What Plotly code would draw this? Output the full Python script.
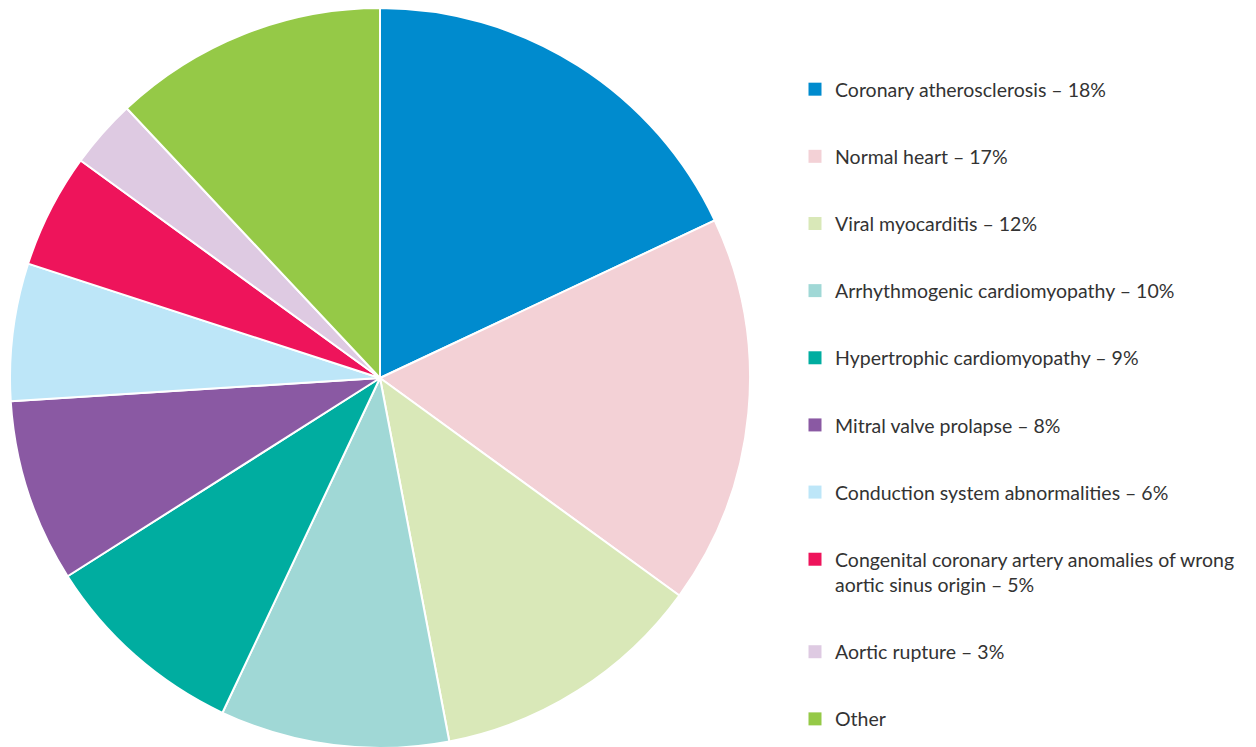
import plotly.graph_objects as go

labels = ["Coronary atherosclerosis", "Normal heart", "Viral myocarditis",
          "Arrhythmogenic cardiomyopathy", "Hypertrophic cardiomyopathy",
          "Mitral valve prolapse", "Conduction system abnormalities",
          "Congenital coronary artery anomalies of wrong aortic sinus origin",
          "Aortic rupture", "Other"]
values = [18, 17, 12, 10, 9, 8, 6, 5, 3, 12]
legend_text = ["Coronary atherosclerosis – 18%", "Normal heart – 17%",
               "Viral myocarditis – 12%", "Arrhythmogenic cardiomyopathy – 10%",
               "Hypertrophic cardiomyopathy – 9%", "Mitral valve prolapse – 8%",
               "Conduction system abnormalities – 6%",
               "Congenital coronary artery anomalies of wrong<br>aortic sinus origin – 5%",
               "Aortic rupture – 3%", "Other"]
colors = ["#008BCE", "#F3D1D6", "#D9E8B8", "#A0D8D6", "#00ADA0",
          "#8A59A3", "#BDE6F8", "#EE145B", "#DECAE2", "#95C947"]

W, H = 1256, 747
PH = 740  # plot-area height
fig = go.Figure()
fig.add_trace(go.Pie(
    labels=labels, values=values, sort=False, direction="clockwise", rotation=0,
    marker=dict(colors=colors, line=dict(color="white", width=2)),
    textinfo="none", hoverinfo="label+percent", showlegend=False,
    domain=dict(x=[2 / W, 742 / W], y=[0, 1]),
))
for i, (t, c) in enumerate(zip(legend_text, colors)):
    fig.add_trace(go.Scatter(
        x=[None], y=[None], mode="markers", name=t, legendgroup=f"g{i}",
        marker=dict(symbol="square", size=13, color=c), showlegend=True,
    ))

fig.update_layout(
    width=W, height=H,
    margin=dict(l=0, r=0, t=0, b=H - PH, autoexpand=False),
    paper_bgcolor="white", plot_bgcolor="white",
    xaxis=dict(visible=False), yaxis=dict(visible=False),
    font=dict(family="Lato, 'Noto Sans', sans-serif", size=19.5, color="#333333"),
    legend=dict(x=787 / W, xanchor="left", y=1 - 62 / PH, yanchor="top",
                traceorder="grouped", tracegroupgap=38.8, valign="top",
                font=dict(size=19.5, color="#333333"), bgcolor="rgba(0,0,0,0)"),
)
fig.write_html("out.html")
